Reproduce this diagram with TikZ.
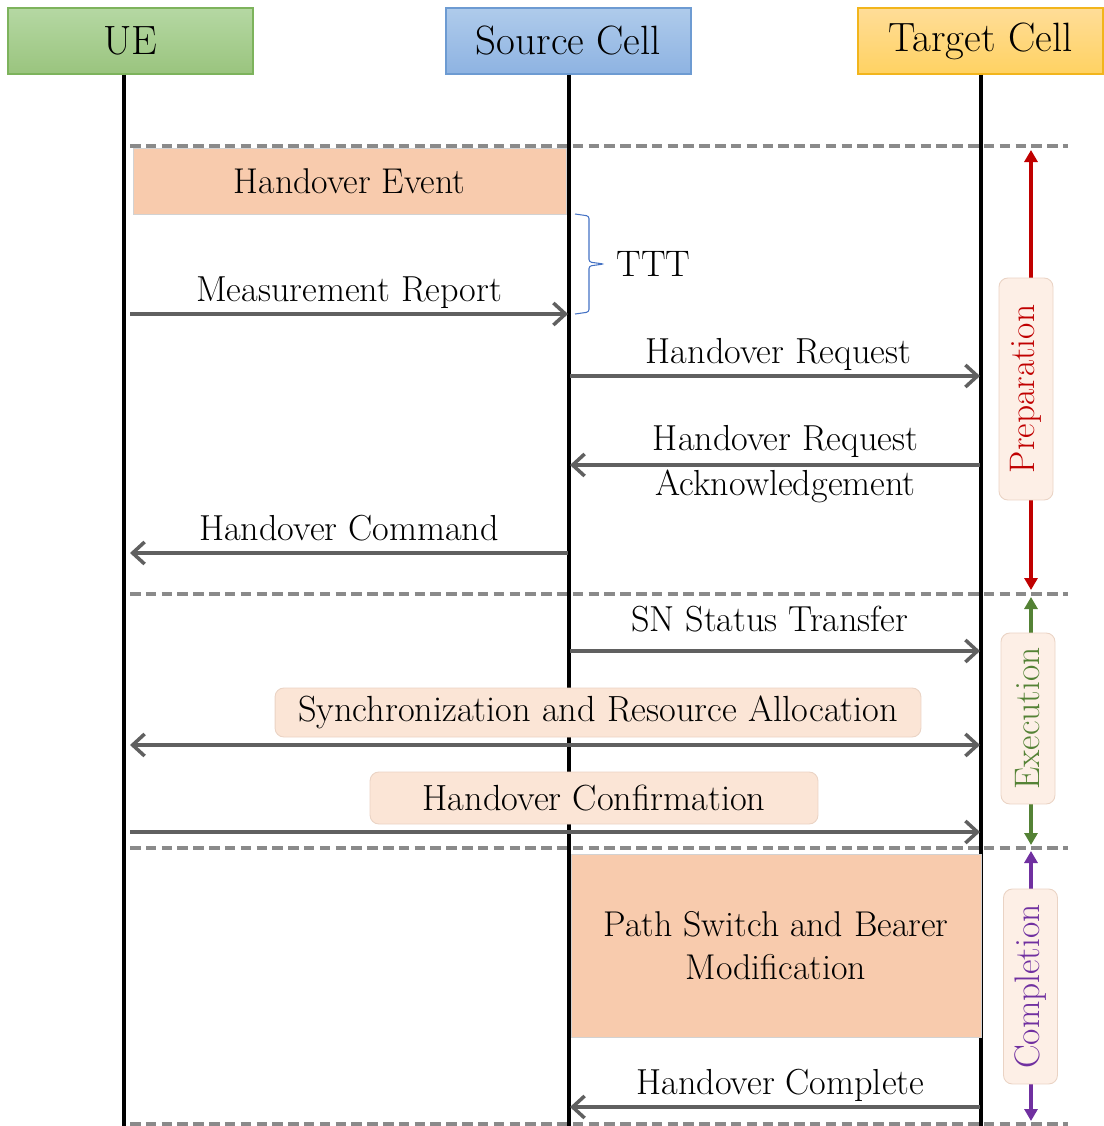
\documentclass[tikz,border=0pt]{standalone}
\usepackage{fontspec}
\usepackage{xcolor}
\usepackage{tikz}
\usetikzlibrary{arrows.meta}
\usetikzlibrary{positioning,calc}

\definecolor{uetop}{HTML}{B5D8A3}
\definecolor{uebot}{HTML}{9AC47E}
\definecolor{ueline}{HTML}{7DB35C}
\definecolor{srctop}{HTML}{AFCBEB}
\definecolor{srcbot}{HTML}{8EB3E2}
\definecolor{srcline}{HTML}{6D9BD2}
\definecolor{tgttop}{HTML}{FFDD98}
\definecolor{tgtbot}{HTML}{FFD262}
\definecolor{tgtline}{HTML}{F2B51C}
\definecolor{msggray}{HTML}{606060}
\definecolor{sepgray}{HTML}{8A8A8A}
\definecolor{peach}{HTML}{F8CBAD}
\definecolor{lightpeach}{HTML}{FBE5D6}
\definecolor{phasefill}{HTML}{FDEFE6}
\definecolor{phaseline}{HTML}{EAD3C4}
\definecolor{boxline}{HTML}{D2D2D2}
\definecolor{bracecol}{HTML}{4472C4}
\definecolor{prepred}{HTML}{C00000}
\definecolor{execgreen}{HTML}{548235}
\definecolor{complpurple}{HTML}{7030A0}

\tikzset{
	>={Straight Barb[length=2.4mm,width=4.4mm]},
	msg/.style={draw=msggray, line width=2pt, ->},
	lbl/.style={font=\fontsize{20.6}{24.5}\selectfont, inner sep=1.5pt, text height=14pt, text depth=4.4pt},
}

\begin{document}
\begin{tikzpicture}[x=0.02cm,y=-0.02cm,
	hdr/.style={draw=#1, line width=0.7pt, minimum width=4.9cm, minimum height=1.32cm, inner sep=0pt, font=\fontsize{23.3}{27}\selectfont},
	life/.style={draw=black, line width=2pt},
	sep/.style={draw=sepgray, line width=1.8pt, dash pattern=on 6pt off 3pt},
	bigbox/.style={draw=boxline, line width=0.5pt, fill=peach, inner sep=0pt, align=center, font=\fontsize{20.4}{24.5}\selectfont},
	pill/.style={draw=phaseline, line width=0.5pt, fill=lightpeach, rounded corners=5pt, inner sep=0pt, font=\fontsize{20.7}{24.5}\selectfont},
	phase/.style={draw=phaseline, line width=0.5pt, fill=phasefill, rounded corners=5pt, rotate=90, inner sep=0pt, minimum height=1.08cm, font=\fontsize{20.2}{24}\selectfont},
	phasearr/.style={line width=1.8pt, {Triangle[length=2.4mm,width=2.6mm]}-{Triangle[length=2.4mm,width=2.6mm]}}]
	\useasboundingbox (0,0) rectangle (1103,1126);

	\node[hdr=ueline, top color=uetop, bottom color=uebot] (ue) at (130.5,41) {UE};
	\node[hdr=srcline, top color=srctop, bottom color=srcbot] (src) at (568.5,41) {Source Cell};
	\node[hdr=tgtline, top color=tgttop, bottom color=tgtbot] (tgt) at (980.5,41) {Target Cell};

	\coordinate (ue-end) at (124,1126);
	\coordinate (src-end) at (569,1126);
	\coordinate (tgt-end) at (981,1126);
	\draw[life] (ue.south -| ue-end) -- (ue-end);
	\draw[life] (src.south -| src-end) -- (src-end);
	\draw[life] (tgt.south -| tgt-end) -- (tgt-end);

	\coordinate (sep1-l) at (130,146);  \coordinate (sep1-r) at (1068,146);
	\coordinate (sep2-l) at (130,594);  \coordinate (sep2-r) at (1068,594);
	\coordinate (sep3-l) at (130,848);  \coordinate (sep3-r) at (1068,848);
	\coordinate (sep4-l) at (130,1124); \coordinate (sep4-r) at (1068,1124);
	\draw[sep] (sep1-l) -- (sep1-r);
	\draw[sep] (sep2-l) -- (sep2-r);
	\draw[sep] (sep3-l) -- (sep3-r);
	\draw[sep] (sep4-l) -- (sep4-r);

	\node[bigbox, minimum width=8.66cm, minimum height=1.32cm] (hoevent) at (349.5,181) {Handover Event};

	\coordinate (ttt-top) at (575,214);
	\coordinate (ttt-bot) at (575,314);
	\draw[bracecol, line width=0.6pt, rounded corners=1.5pt] (ttt-top) -- (589,216) -- (589,262) -- (604,264) -- (589,266) -- (589,312) -- (ttt-bot);
	\node[font=\fontsize{21}{25}\selectfont, anchor=west, inner sep=0pt] (ttt) at (616,264) {TTT};

	\coordinate (mr-from) at (130,314); \coordinate (mr-to) at (568,314);
	\draw[msg] (mr-from) -- node[lbl, above] {Measurement Report} (mr-to);

	\coordinate (hr-from) at (570,376); \coordinate (hr-to) at (980,376);
	\draw[msg] (hr-from) -- node[lbl, above, xshift=2pt] {Handover Request} (hr-to);

	\coordinate (hra-from) at (980,465); \coordinate (hra-to) at (570,465);
	\draw[msg] (hra-from) -- node[lbl, above, xshift=6pt, yshift=1.5pt] {Handover Request} node[lbl, below, xshift=6pt, yshift=-1pt] {Acknowledgement} (hra-to);

	\coordinate (hc-from) at (568,553); \coordinate (hc-to) at (130,553);
	\draw[msg] (hc-from) -- node[lbl, above] {Handover Command} (hc-to);

	\coordinate (sn-from) at (570,651); \coordinate (sn-to) at (980,651);
	\draw[msg] (sn-from) -- node[lbl, above, yshift=4pt, xshift=-3pt] {SN Status Transfer} (sn-to);

	\coordinate (sync-l) at (130,745); \coordinate (sync-r) at (980,745);
	\draw[msg, <->] (sync-l) -- (sync-r);
	\node[pill, minimum width=12.92cm, minimum height=0.98cm] (sync) at (598,712.5) {Synchronization and Resource Allocation};

	\coordinate (conf-from) at (130,832); \coordinate (conf-to) at (980,832);
	\draw[msg] (conf-from) -- (conf-to);
	\node[pill, minimum width=8.96cm, minimum height=1.04cm] (conf) at (594,798) {Handover Confirmation};

	\node[bigbox, minimum width=8.2cm, minimum height=3.66cm] (pathsw) at (776,945.5) {Path Switch and Bearer\\Modification};

	\coordinate (cpl-from) at (980,1107); \coordinate (cpl-to) at (570,1107);
	\draw[msg] (cpl-from) -- node[lbl, above, xshift=3pt] {Handover Complete} (cpl-to);

	\coordinate (prep-top) at (1031,150); \coordinate (prep-bot) at (1031,590);
	\draw[phasearr, prepred] (prep-top) -- (prep-bot);
	\node[phase, text=prepred, minimum width=4.44cm] (prep) at (1026,389) {Preparation};

	\coordinate (exec-top) at (1031,597); \coordinate (exec-bot) at (1031,845);
	\draw[phasearr, execgreen] (exec-top) -- (exec-bot);
	\node[phase, text=execgreen, minimum width=3.42cm] (exec) at (1028,718.5) {Execution};

	\coordinate (cpl-top) at (1031,851); \coordinate (cpl-bot) at (1031,1121);
	\draw[phasearr, complpurple] (cpl-top) -- (cpl-bot);
	\node[phase, text=complpurple, minimum width=3.9cm] (compl) at (1030.5,986.5) {Completion};
\end{tikzpicture}
\end{document}
